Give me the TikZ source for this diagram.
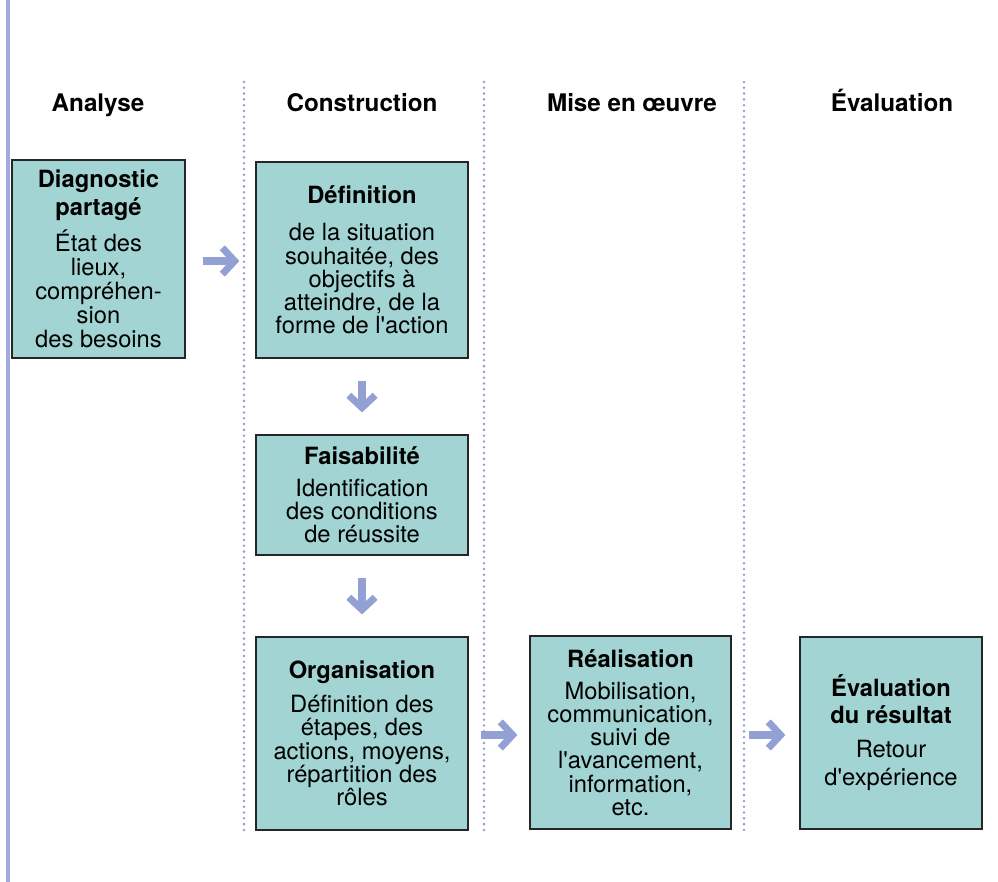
\documentclass[tikz,border=0pt]{standalone}
\usepackage{fontspec}
\setmainfont{TeX Gyre Heros}[Ligatures=TeXOff]
\usepackage{tikz}
\usetikzlibrary{arrows.meta, positioning}
\definecolor{boxfill}{RGB}{161,212,210}
\definecolor{arrowblue}{RGB}{146,160,212}
\definecolor{railblue}{RGB}{160,170,222}
\tikzstyle{block} = [rectangle, draw=black!85, line width=0.7pt, fill=boxfill, align=center, inner sep=2pt, font=\fontsize{13.5}{13.2}\selectfont]
\tikzstyle{head} = [anchor=base, font=\bfseries\fontsize{13.8}{14}\selectfont]
\tikzstyle{arrow} = [-{Straight Barb[length=7pt,width=15pt]}, line width=4pt, draw=arrowblue]
\tikzstyle{sep} = [draw=arrowblue, line width=1.6pt, dash pattern=on 0pt off 3.3pt, line cap=round]

\begin{document}
\begin{tikzpicture}[x=0.02cm, y=-0.02cm]

    \useasboundingbox (0, 0) rectangle (998, 882);

    % rail and column separators
    \draw [railblue, line width=2pt] (8, 0) -- (8, 882);
    \draw [sep] (244, 82) -- (244, 832);
    \draw [sep] (484, 82) -- (484, 832);
    \draw [sep] (744, 82) -- (744, 832);

    % column titles
    \node (hAnalyse) [head] at (98, 112) {Analyse};
    \node (hConstr) [head] at (362, 112) {Construction};
    \node (hMise) [head] at (632, 112) {Mise en œuvre};
    \node (hEval) [head] at (892, 112) {Évaluation};

    % steps
    \node (diag) [block, minimum width=3.46cm, minimum height=3.96cm] at (98.5, 259)
        {\textbf{Diagnostic}\\[3pt]\textbf{partagé}\\[4pt]État des\\[0.5pt]lieux,\\[0.5pt]compréhen-\\[0.5pt]sion\\[0.5pt]des besoins};
    \node (defin) [block, minimum width=4.24cm, minimum height=3.92cm] at (362, 260)
        {\textbf{Définition}\\[8pt]de la situation\\souhaitée, des\\objectifs à\\atteindre, de la\\forme de l'action};
    \node (faisab) [block, minimum width=4.24cm, minimum height=2.4cm] at (362, 495)
        {\textbf{Faisabilité}\\[5pt]Identification\\des conditions\\de réussite};
    \node (organis) [block, minimum width=4.24cm, minimum height=3.86cm] at (362, 733.5)
        {\textbf{Organisation}\\[6pt]Définition des\\étapes, des\\actions, moyens,\\répartition des\\rôles};
    \node (realis) [block, minimum width=4.02cm, minimum height=3.86cm] at (630.5, 732.5)
        {\textbf{Réalisation}\\[5pt]Mobilisation,\\communication,\\suivi de\\l'avancement,\\information,\\etc.};
    \node (evalres) [block, minimum width=3.64cm, minimum height=3.84cm] at (891, 733)
        {\textbf{Évaluation}\\[2pt]\textbf{du résultat}\\[6pt]Retour\\[3pt]d'expérience};

    % flow
    \draw [arrow, shorten <=0.34cm, shorten >=0.32cm] (diag.east |- 0, 261) -- (defin.west |- 0, 261);
    \draw [arrow, shorten <=0.44cm, shorten >=0.44cm] (defin) -- (faisab);
    \draw [arrow, shorten <=0.44cm, shorten >=0.44cm] (faisab) -- (organis);
    \draw [arrow, shorten <=0.24cm, shorten >=0.24cm] (organis.east |- 0, 735) -- (realis.west |- 0, 735);
    \draw [arrow, shorten <=0.34cm, shorten >=0.28cm] (realis.east |- 0, 735) -- (evalres.west |- 0, 735);

\end{tikzpicture}
\end{document}
